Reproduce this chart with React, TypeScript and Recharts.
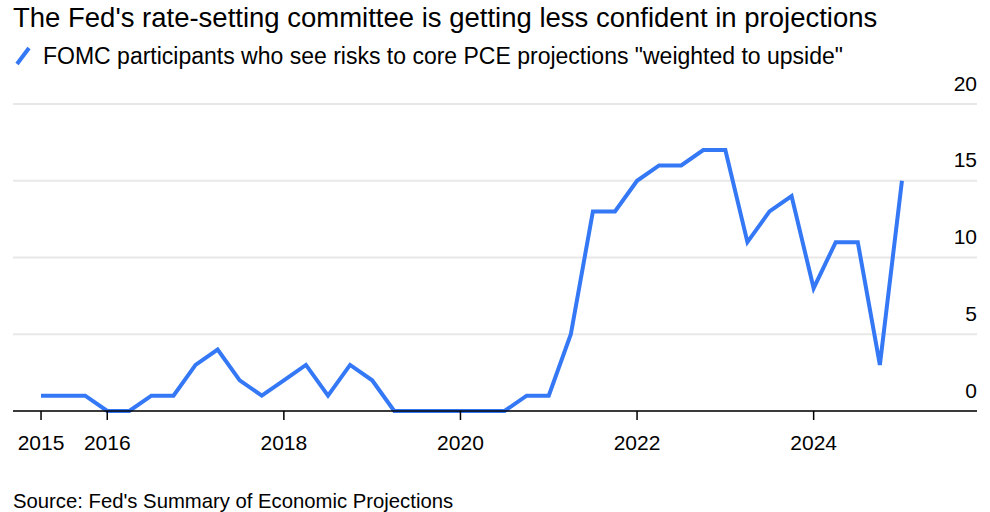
import {CartesianGrid, Line, LineChart, XAxis, YAxis} from 'recharts';

// SEP release months, March 2015 .. December 2024
const sepDates = [
    '2015-03', '2015-06', '2015-09', '2015-12',
    '2016-03', '2016-06', '2016-09', '2016-12',
    '2017-03', '2017-06', '2017-09', '2017-12',
    '2018-03', '2018-06', '2018-09', '2018-12',
    '2019-03', '2019-06', '2019-09', '2019-12',
    '2020-03', '2020-06', '2020-09', '2020-12',
    '2021-03', '2021-06', '2021-09', '2021-12',
    '2022-03', '2022-06', '2022-09', '2022-12',
    '2023-03', '2023-06', '2023-09', '2023-12',
    '2024-03', '2024-06', '2024-09', '2024-12',
]

// participants seeing core PCE risks "weighted to upside"
const upsideCount = [
    1, 1, 1, 0, 0, 1, 1, 3, 4, 2,
    1, 2, 3, 1, 3, 2, 0, 0, 0, 0,
    0, 0, 1, 1, 5, 13, 13, 15, 16, 16,
    17, 17, 11, 13, 14, 8, 11, 11, 3, 15,
]

const xTickIndex = [0, 3, 11, 19, 27, 35]
const xTickLabels = ['2015', '2016', '2018', '2020', '2022', '2024']
const yTicks = [0, 5, 10, 15, 20]

const data = sepDates.map((date, i) => ({i, date, value: upsideCount[i]}))

const FONT = '"Liberation Sans", Arial, sans-serif'

const YTick = (props: any) => {
    const {x, y, payload} = props
    return (
        <text x={x} y={y - 21} textAnchor="end" dominantBaseline="central"
              fontSize={21} fontFamily={FONT} fill="#000">
            {payload.value}
        </text>
    )
}

const XTick = (props: any) => {
    const {x, y, payload} = props
    const idx = xTickIndex.indexOf(payload.value)
    return (
        <text x={x} y={y + 20} textAnchor="middle" dominantBaseline="central"
              fontSize={21} fontFamily={FONT} fill="#000">
            {xTickLabels[idx]}
        </text>
    )
}

const App = () => {
    return (
        <div style={{position: 'absolute', left: 0, top: 0, width: 990, height: 512, background: '#fff', fontFamily: FONT}}>
            <div style={{position: 'absolute', left: 13, top: 2, fontSize: 27.5, lineHeight: '32px', color: '#000', whiteSpace: 'nowrap'}}>
                The Fed's rate-setting committee is getting less confident in projections
            </div>
            <div style={{position: 'absolute', left: 13, top: 43, fontSize: 23, lineHeight: '26px', color: '#000', whiteSpace: 'nowrap', display: 'flex', alignItems: 'center'}}>
                <svg width={24} height={22} style={{marginRight: 6}}>
                    <line x1={4} y1={19} x2={16} y2={3} stroke="#3478f6" strokeWidth={4}/>
                </svg>
                FOMC participants who see risks to core PCE projections "weighted to upside"
            </div>
            <div style={{position: 'absolute', left: 13, top: 489, fontSize: 20.3, lineHeight: '24px', color: '#000', whiteSpace: 'nowrap'}}>
                Source: Fed's Summary of Economic Projections
            </div>
            <div style={{position: 'absolute', left: 0, top: 0}}>
                <LineChart width={990} height={512} data={data}
                           margin={{top: 104, right: 0, bottom: 61, left: 13}}>
                    <CartesianGrid vertical={false} stroke="#e8e8e8" strokeWidth={2}/>
                    <XAxis dataKey="i" type="number" domain={[-1.27, 42.4]} ticks={xTickIndex}
                           allowDataOverflow tick={<XTick/>} height={40}
                           axisLine={{stroke: '#000', strokeWidth: 1.5}}
                           tickLine={{stroke: '#000', strokeWidth: 1.5}} tickSize={9}/>
                    <YAxis orientation="right" domain={[0, 20]} ticks={yTicks} width={13}
                           axisLine={false} tickLine={false} tick={<YTick/>} tickSize={0} tickMargin={0}/>
                    <Line type="linear" dataKey="value" stroke="#3478f6" strokeWidth={4}
                          dot={false} isAnimationActive={false}/>
                </LineChart>
            </div>
        </div>
    )
}

export default App
